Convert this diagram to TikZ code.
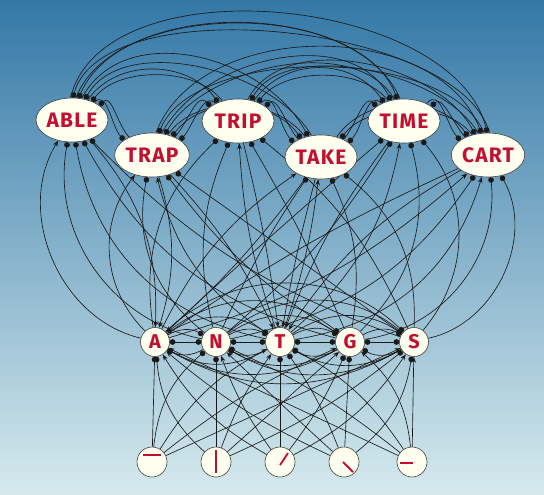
\documentclass[tikz,border=0pt]{standalone}
\usepackage{fontspec}
\setmainfont{Fira Sans}
\newfontfamily\wordfont{Fira Sans}[LetterSpace=6]
\usetikzlibrary{arrows.meta,shapes.geometric}
\pgfdeclarelayer{bg}
\pgfdeclarelayer{links}
\pgfsetlayers{bg,links,main}
\definecolor{bgtop}{RGB}{52,120,167}
\definecolor{bgbot}{RGB}{214,234,238}
\definecolor{cream}{RGB}{255,255,240}
\definecolor{wred}{RGB}{196,14,48}
\begin{document}
\begin{tikzpicture}[x=1bp,y=-1bp,
  word/.style={ellipse, draw=black!75, line width=0.6pt, fill=cream,
    minimum width=72bp, minimum height=44bp, inner sep=0pt,
    font=\wordfont\fontsize{21}{21}\selectfont\bfseries, text=wred},
  letter/.style={circle, draw=black!75, line width=0.6pt, fill=cream,
    minimum size=29bp, inner sep=0pt,
    font=\fontsize{20}{20}\selectfont\bfseries, text=wred},
  feat/.style={circle, draw=black!75, line width=0.6pt, fill=cream,
    minimum size=30bp, inner sep=0pt},
  link/.style={line width=0.65pt, black!90},
  inh/.style={link, -{Circle[length=5.6pt]}},
  inhboth/.style={link, {Circle[length=5.6pt]}-{Circle[length=5.6pt]}},
  exc/.style={link, -{Stealth[length=6pt,width=4.6pt]}},
  glyph/.style={line width=1.8pt, wred}]
\useasboundingbox (0,0) rectangle (544,495);
\begin{pgfonlayer}{bg}
  \shade[top color=bgtop, bottom color=bgbot] (0,0) rectangle (544,495);
\end{pgfonlayer}

% word nodes
\node[word] (w1) at (72,120) {ABLE};
\node[word] (w2) at (152,155) {TRAP};
\node[word] (w3) at (238,121) {TRIP};
\node[word] (w4) at (321,157) {TAKE};
\node[word] (w5) at (404,121) {TIME};
\node[word] (w6) at (488,155) {CART};
% letter nodes
\node[letter] (l1) at (155,342) {A};
\node[letter] (l2) at (216,342) {N};
\node[letter] (l3) at (280,342) {T};
\node[letter] (l4) at (350,342) {G};
\node[letter] (l5) at (414,342) {S};
% feature nodes
\node[feat] (f1) at (152,462) {};
\node[feat] (f2) at (216,462) {};
\node[feat] (f3) at (280,462) {};
\node[feat] (f4) at (344,462) {};
\node[feat] (f5) at (412,462) {};
\draw[glyph] ([shift={(-9,-7)}]f1.center) -- ++(18,0);
\draw[glyph] ([shift={(0,-12)}]f2.center) -- ++(0,23);
\draw[glyph] ([shift={(0,3)}]f3.center) -- ++(8,-12);
\draw[glyph] ([shift={(-1,0)}]f4.center) -- ++(10,10);
\draw[glyph] ([shift={(-12,1)}]f5.center) -- ++(13,0);

\begin{pgfonlayer}{links}
% word-word inhibition
\foreach \i in {1,...,6}{
  \foreach \j in {1,...,6}{
    \ifnum\i<\j
      \pgfmathsetmacro\sa{38+14*(\j-\i-1)}
      \pgfmathsetmacro\ea{152-15*(\j-\i-1)}
      \pgfmathsetmacro\oa{48+7*(\j-\i-1)}
      \pgfmathsetmacro\ia{180-\oa}
      \pgfmathsetmacro\sb{142-14*(\j-\i-1)}
      \pgfmathsetmacro\eb{28+15*(\j-\i-1)}
      \pgfmathsetmacro\ob{134-7*(\j-\i-1)}
      \pgfmathsetmacro\ib{180-\ob}
      \pgfmathsetmacro\lo{1.05-0.05*(\j-\i)+0.06*mod(\i+\j,3)}
      \pgfmathsetmacro\lb{0.95-0.05*(\j-\i)+0.06*mod(\i*\j,3)}
      \draw[inh] (w\i.\sa) to[out=\oa,in=\ia,looseness=\lo] (w\j.\ea);
      \draw[inh] (w\j.\sb) to[out=\ob,in=\ib,looseness=\lb] (w\i.\eb);
    \fi
  }
}
% letter-letter inhibition
\foreach \i in {1,...,5}{
  \foreach \j in {1,...,5}{
    \ifnum\i<\j
      \pgfmathsetmacro\ba{24+5*(\j-\i)}
      \draw[inh] (l\i) to[bend left=\ba] (l\j);
      \draw[inh] (l\j) to[bend left=30] (l\i);
    \fi
  }
}
\draw[inhboth] (l1) -- (l2);
\draw[inhboth] (l2) -- (l3);
\draw[inhboth] (l3) -- (l4);
\draw[inhboth] (l4) -- (l5);
% letter -> word
\foreach \w in {1,...,6}{
  \foreach \l in {1,...,5}{
    \pgfmathsetmacro\xw{{72,152,238,321,404,488}[\w-1]}
    \pgfmathsetmacro\xl{{155,216,280,350,414}[\l-1]}
    \pgfmathsetmacro\bb{max(-60,min(60,-((\xw+\xl)/2-283)*0.32))}
    \pgfmathsetmacro\bf{0.4*\bb}
    \pgfmathtruncatemacro\c{{1,0,0,0,0, 1,0,1,0,0, 0,0,1,0,0, 1,0,1,0,0, 0,0,1,0,0, 1,0,1,0,0}[(\w-1)*5+\l-1]}
    \ifnum\c=1
      \draw[exc] (l\l) to[bend left=\bb] (w\w);
      \draw[exc] (w\w) to[bend left=\bf] (l\l);
    \else
      \draw[inh] (l\l) to[bend left=\bb] (w\w);
    \fi
  }
}
% feature -> letter
\foreach \f in {1,...,5}{
  \foreach \l in {1,...,5}{
    \pgfmathsetmacro\xf{{152,216,280,344,412}[\f-1]}
    \pgfmathsetmacro\xl{{155,216,280,350,414}[\l-1]}
    \pgfmathsetmacro\bb{max(-40,min(40,-((\xf+\xl)/2-283)*0.22))}
    \pgfmathtruncatemacro\c{{0,0,1,1,1, 0,0,1,1,0, 1,1,0,0,0, 1,1,0,0,1, 1,0,1,0,1}[(\l-1)*5+\f-1]}
    \ifnum\f=\l
      \ifnum\c=1 \draw[exc] (f\f) -- (l\l); \else \draw[inh] (f\f) -- (l\l); \fi
    \else
      \ifnum\c=1 \draw[exc] (f\f) to[bend left=\bb] (l\l); \else \draw[inh] (f\f) to[bend left=\bb] (l\l); \fi
    \fi
  }
}
\end{pgfonlayer}
\end{tikzpicture}
\end{document}
